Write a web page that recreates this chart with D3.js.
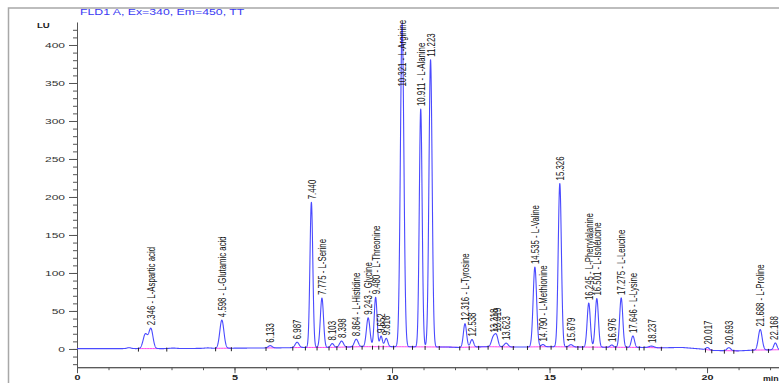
<!DOCTYPE html>
<html>
<head>
<meta charset="utf-8">
<script src="https://cdn.jsdelivr.net/npm/d3@7/dist/d3.min.js"></script>
<style>
  html, body { margin: 0; padding: 0; background: #fff; }
  svg { display: block; font-family: "Liberation Sans", Arial, sans-serif; }
</style>
</head>
<body>
<svg id="chart" width="779" height="383"></svg>
<script>
// FLD1 A chromatogram (Ex=340, Em=450): amino-acid peaks
const peakTimes   = [2.346, 4.598, 6.133, 6.987, 7.440, 7.775, 8.103, 8.398, 8.864, 9.243, 9.480, 9.652, 9.816,
                     10.321, 10.911, 11.223, 12.316, 12.538, 13.218, 13.319, 13.623, 14.535, 14.790, 15.326,
                     15.679, 16.245, 16.501, 16.976, 17.275, 17.646, 18.237, 20.017, 20.693, 21.688, 22.168];
const peakHeights = [26, 37, 3, 7, 191, 65, 5, 8, 10, 38, 65, 14, 11,
                     426, 313, 378, 31, 10, 13, 13, 5, 105, 3, 215,
                     3, 58, 64, 3, 65, 15, 2, 3, 4, 27, 9];
const peakWidths  = [0.065, 0.065, 0.06, 0.06, 0.045, 0.05, 0.05, 0.06, 0.06, 0.055, 0.045, 0.04, 0.05,
                     0.055, 0.045, 0.05, 0.05, 0.05, 0.06, 0.05, 0.06, 0.055, 0.05, 0.05,
                     0.06, 0.05, 0.05, 0.05, 0.05, 0.05, 0.08, 0.05, 0.06, 0.06, 0.05];
const peakNames   = ["L-Aspartic acid", "L-Glutamic acid", "", "", "", "L-Serine", "", "", "L-Histidine", "Glycine", "L-Threonine", "", "",
                     "L-Arginine", "L-Alanine", "", "L-Tyrosine", "", "", "", "", "L-Valine", "L-Methionine", "",
                     "", "L-Phenylalanine", "L-Isoleucine", "", "L-Leucine", "L-Lysine", "", "", "", "L-Proline", ""];

// unlabelled shoulders / small bumps
const shoulderTimes   = [1.65, 2.17, 3.05, 4.15];
const shoulderHeights = [1.2, 19, 0.6, 0.6];
const shoulderWidths  = [0.06, 0.07, 0.1, 0.1];

// baseline drift (min, LU)
const driftTimes  = [0, 1.5, 2.8, 4.2, 5.5, 6.5, 7.2, 8.0, 9.0, 10.0, 11.8, 12.1, 13.0, 14.0, 15.0, 16.0, 18.0, 18.5, 19.2, 19.8, 20.2, 21.0, 21.5, 22.3];
const driftValues = [0.5, 0.5, 0.5, 0.8, 1.2, 1.5, 2.0, 2.0, 3.0, 3.0, 2.5, 2.0, 3.0, 2.5, 3.0, 2.5, 2.0, 1.5, 2.0, 0.0, -2.0, -2.5, -1.5, -1.0];

// integration baselines and peak-boundary marks
const baselineStarts = [1.95, 4.40, 6.00, 6.85, 14.30, 19.95, 21.40];
const baselineEnds   = [2.85, 4.90, 6.30, 13.90, 18.60, 21.00, 22.30];
const boundaryTimes  = [1.95, 2.85, 4.4, 4.9, 6.0, 6.85, 7.25, 7.62, 8.0, 8.25, 8.55, 8.75, 9.05, 9.38, 9.58, 9.72, 10.05,
                        10.65, 11.05, 11.5, 12.15, 12.45, 12.75, 13.05, 13.5, 13.85, 14.3, 14.7, 15.05, 15.55, 15.9,
                        16.05, 16.38, 16.8, 17.1, 17.45, 17.85, 18.0, 18.55, 19.95, 20.15, 20.55, 20.85, 21.45, 21.95];

const yMajorTicks = [0, 50, 100, 150, 200, 250, 300, 350, 400];
const yMinorTicks = d3.range(-20, 421, 10);
const xMajorTicks = [0, 5, 10, 15, 20];
const xMinorTicks = d3.range(0, 23, 1);

const svg = d3.select("#chart");
const x = d3.scaleLinear().domain([0, 22.3]).range([77, 779.5]);
const y = d3.scaleLinear().domain([-24, 430]).range([367.2, 22.2]);

const drift = d3.scaleLinear().domain(driftTimes).range(driftValues).clamp(true);
function signal(t) {
  let v = drift(t);
  for (let i = 0; i < peakTimes.length; i++) {
    const d = t - peakTimes[i];
    v += peakHeights[i] * Math.exp(-d * d / (2 * peakWidths[i] * peakWidths[i]));
  }
  for (let i = 0; i < shoulderTimes.length; i++) {
    const d = t - shoulderTimes[i];
    v += shoulderHeights[i] * Math.exp(-d * d / (2 * shoulderWidths[i] * shoulderWidths[i]));
  }
  return v;
}

// stretch text horizontally (or along its run) by a factor
function stretch(sel, k) {
  sel.each(function () {
    const w = this.getComputedTextLength();
    d3.select(this).attr("textLength", w * k).attr("lengthAdjust", "spacingAndGlyphs");
  });
}

// frame
svg.append("path").attr("d", "M8.5,383 V8 H779").attr("fill", "none").attr("stroke", "#a8a8a8").attr("stroke-width", 1.5);

// title
svg.append("text").attr("x", 80).attr("y", 15).attr("font-size", 8.2).attr("fill", "#3a3af2")
  .text("FLD1 A, Ex=340, Em=450, TT").call(stretch, 1.5);

// y axis
const gy = svg.append("g").attr("transform", "translate(77,0)");
gy.append("g").call(d3.axisLeft(y).tickValues(yMinorTicks).tickSize(4).tickSizeOuter(0).tickFormat(""));
const gyMaj = gy.append("g").call(d3.axisLeft(y).tickValues(yMajorTicks).tickSize(8).tickSizeOuter(0).tickPadding(4));
gy.selectAll("path.domain").attr("stroke", "#555");
gy.selectAll(".tick line").attr("stroke", "#555");
gyMaj.selectAll("text").attr("font-size", 8).attr("fill", "#333").attr("font-family", "Liberation Sans, Arial, sans-serif")
  .call(stretch, 1.5);

// x axis
const gx = svg.append("g").attr("transform", "translate(0,367.2)");
gx.append("g").call(d3.axisBottom(x).tickValues(xMinorTicks).tickSize(3).tickSizeOuter(0).tickFormat(""));
const gxMaj = gx.append("g").call(d3.axisBottom(x).tickValues(xMajorTicks).tickSize(6).tickSizeOuter(0).tickPadding(2));
gx.selectAll("path.domain").attr("stroke", "#555");
gx.selectAll(".tick line").attr("stroke", "#555");
gxMaj.selectAll("text").attr("font-size", 8).attr("font-weight", "bold").attr("fill", "#222")
  .attr("font-family", "Liberation Sans, Arial, sans-serif").attr("y", 7).call(stretch, 1.35);

// axis captions
svg.append("text").attr("x", 37).attr("y", 28).attr("font-size", 8).attr("fill", "#222").attr("font-weight", "bold")
  .text("LU").call(stretch, 1.2);
svg.append("text").attr("x", 763).attr("y", 380.5).attr("font-size", 8).attr("fill", "#222").attr("font-weight", "bold")
  .text("min").call(stretch, 1.1);

// integration baselines
const pinkLine = d3.line().x(d => x(d)).y(d => y(drift(d)));
baselineStarts.forEach((s, i) => {
  const ts = d3.range(s, baselineEnds[i], 0.05).concat([baselineEnds[i]]);
  svg.append("path").attr("d", pinkLine(ts)).attr("fill", "none").attr("stroke", "#ff44ee").attr("stroke-width", 1);
});

// signal trace
const times = d3.range(0, 22.3 + 1e-9, 0.004);
const trace = d3.line().x(d => x(d)).y(d => y(signal(d)));
svg.append("path").attr("d", trace(times)).attr("fill", "none")
  .attr("stroke", "#4a4aff").attr("stroke-width", 1.1).attr("stroke-linejoin", "round");

// peak boundary marks
svg.append("g").selectAll("line").data(boundaryTimes).join("line")
  .attr("x1", d => x(d)).attr("x2", d => x(d))
  .attr("y1", d => y(drift(d)) - 1).attr("y2", d => y(drift(d)) + 3)
  .attr("stroke", "#222").attr("stroke-width", 1);

// peak labels (rotated, reading upward from just above the apex)
const labels = svg.append("g");
peakTimes.forEach((t, i) => {
  const txt = t.toFixed(3) + (peakNames[i] ? " - " + peakNames[i] : "");
  const el = labels.append("text").attr("font-size", 11.5).attr("fill", "#111").attr("dy", "0.36em").text(txt);
  const w = el.node().getComputedTextLength() * 0.68;
  el.attr("textLength", w).attr("lengthAdjust", "spacingAndGlyphs");
  let bottom = y(signal(t)) - 3;
  if (bottom - w < 20) bottom = 20 + w;
  // keep the last label inside the right edge
  const px = Math.min(x(t), 774);
  el.attr("transform", `translate(${px},${bottom}) rotate(-90)`);
});
</script>
</body>
</html>
